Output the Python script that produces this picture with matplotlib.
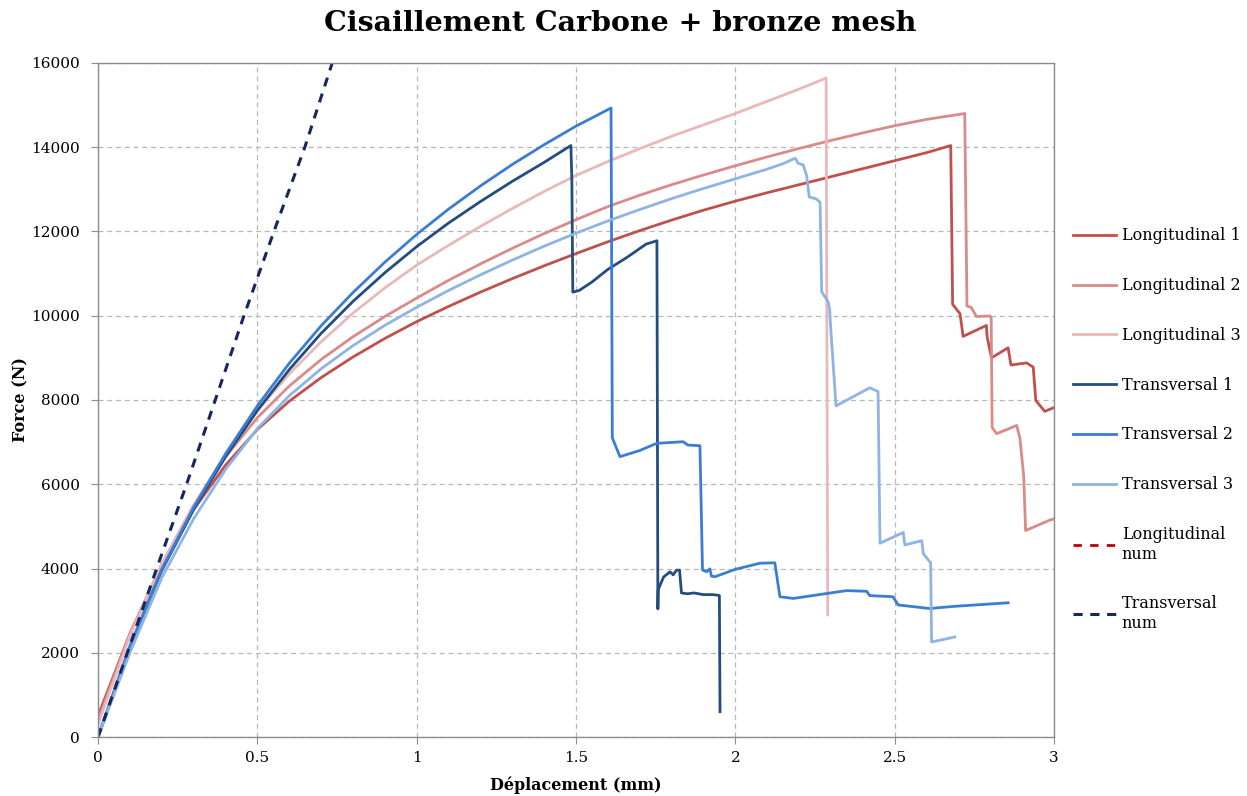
import matplotlib
matplotlib.use("Agg")
import matplotlib.pyplot as plt

plt.rcParams['font.family'] = ['DejaVu Serif']

# Longitudinal 1
l1_x = [0, 0.1, 0.2, 0.3, 0.4, 0.5, 0.6, 0.7, 0.8, 0.9, 1.0, 1.1, 1.2, 1.3, 1.4, 1.5, 1.6, 1.7, 1.8, 1.9,
        2.0, 2.1, 2.2, 2.3, 2.4, 2.5, 2.6, 2.676, 2.682, 2.705, 2.715, 2.788, 2.79, 2.804, 2.856, 2.865,
        2.914, 2.935, 2.943, 2.971, 3.0]
l1_y = [500, 2450, 4050, 5400, 6450, 7300, 7970, 8530, 9020, 9460, 9860, 10220, 10560, 10880, 11185, 11475,
        11755, 12020, 12270, 12505, 12720, 12920, 13110, 13300, 13490, 13680, 13870, 14040, 10270, 10050,
        9510, 9770, 9510, 9000, 9240, 8830, 8880, 8780, 7990, 7730, 7820]

# Longitudinal 2
l2_x = [0, 0.1, 0.2, 0.3, 0.4, 0.5, 0.6, 0.7, 0.8, 0.9, 1.0, 1.1, 1.2, 1.3, 1.4, 1.5, 1.6, 1.7, 1.8, 1.9,
        2.0, 2.1, 2.2, 2.3, 2.4, 2.5, 2.6, 2.72, 2.727, 2.74, 2.757, 2.799, 2.803, 2.806, 2.82, 2.883,
        2.893, 2.905, 2.911, 2.982, 3.0]
l2_y = [400, 2450, 4100, 5500, 6650, 7580, 8330, 8960, 9500, 9980, 10420, 10840, 11230, 11600, 11950, 12280,
        12590, 12860, 13110, 13340, 13560, 13770, 13970, 14160, 14340, 14510, 14660, 14800, 10230, 10200,
        9980, 9995, 9950, 7350, 7200, 7395, 7100, 6200, 4900, 5134, 5180]

# Longitudinal 3
l3_x = [0, 0.1, 0.2, 0.3, 0.4, 0.5, 0.6, 0.7, 0.8, 0.9, 1.0, 1.1, 1.2, 1.3, 1.4, 1.5, 1.6,
        1.7, 1.8, 1.9, 2.0, 2.1, 2.2, 2.285, 2.29]
l3_y = [300, 2400, 4100, 5500, 6700, 7750, 8620, 9380, 10060, 10660, 11200, 11670, 12120, 12545, 12950,
        13330, 13660, 13965, 14260, 14530, 14800, 15090, 15380, 15640, 2900]

# Transversal 1
t1_x = [0, 0.1, 0.2, 0.3, 0.4, 0.5, 0.6, 0.7, 0.8, 0.9, 1.0, 1.1, 1.2, 1.3, 1.4, 1.484, 1.487, 1.49,
        1.51, 1.55, 1.6, 1.66, 1.72, 1.754, 1.757, 1.758, 1.775, 1.795, 1.805, 1.815, 1.825, 1.831, 1.85,
        1.87, 1.9, 1.93, 1.95, 1.952]
t1_y = [0, 2150, 3950, 5400, 6650, 7750, 8720, 9580, 10340, 11020, 11640, 12200, 12710, 13190, 13640,
        14040, 13250, 10560, 10600, 10800, 11100, 11385, 11700, 11780, 3040, 3500, 3800, 3920, 3850, 3960,
        3960, 3420, 3400, 3420, 3380, 3380, 3360, 600]

# Transversal 2
t2_x = [0, 0.1, 0.2, 0.3, 0.4, 0.5, 0.6, 0.7, 0.8, 0.9, 1.0, 1.1, 1.2, 1.3, 1.4, 1.5, 1.61, 1.614, 1.638,
        1.7, 1.753, 1.836, 1.851, 1.889, 1.897, 1.91, 1.92, 1.925, 1.936, 2.0, 2.077, 2.124, 2.14, 2.182,
        2.349, 2.412, 2.422, 2.495, 2.511, 2.61, 2.684, 2.856]
t2_y = [0, 2150, 3980, 5450, 6720, 7860, 8870, 9760, 10550, 11270, 11930, 12530, 13080, 13590, 14060,
        14500, 14930, 7100, 6655, 6800, 6970, 7010, 6930, 6915, 3965, 3925, 3990, 3820, 3805, 3980, 4125,
        4135, 3330, 3290, 3475, 3460, 3357, 3330, 3135, 3050, 3100, 3186]

# Transversal 3
t3_x = [0, 0.1, 0.2, 0.3, 0.4, 0.5, 0.6, 0.7, 0.8, 0.9, 1.0, 1.1, 1.2, 1.3, 1.4, 1.5, 1.6, 1.7, 1.8, 1.9,
        2.0, 2.1, 2.15, 2.188, 2.197, 2.213, 2.224, 2.232, 2.255, 2.266, 2.271, 2.292, 2.296, 2.3, 2.316,
        2.422, 2.448, 2.454, 2.527, 2.532, 2.585, 2.59, 2.613, 2.616, 2.689]
t3_y = [0, 2000, 3780, 5180, 6350, 7320, 8100, 8740, 9290, 9770, 10200, 10600, 10970, 11320, 11650, 11960,
        12250, 12520, 12780, 13020, 13250, 13480, 13610, 13740, 13620, 13580, 13320, 12820, 12770, 12690,
        10570, 10320, 10150, 9640, 7860, 8290, 8200, 4600, 4855, 4560, 4660, 4350, 4135, 2256, 2374]

# Transversal num (dashed)
tnum_x = [0, 0.092, 0.184, 0.278, 0.368, 0.458, 0.552, 0.649, 0.735]
tnum_y = [0, 2000, 4000, 6000, 8000, 10000, 12000, 14000, 16000]

series = [
    ("Longitudinal 1", l1_x, l1_y, "#c0504d"),
    ("Longitudinal 2", l2_x, l2_y, "#d98b89"),
    ("Longitudinal 3", l3_x, l3_y, "#e8b9b8"),
    ("Transversal 1", t1_x, t1_y, "#234d7e"),
    ("Transversal 2", t2_x, t2_y, "#3a7dd3"),
    ("Transversal 3", t3_x, t3_y, "#8db4e3"),
]

fig = plt.figure(figsize=(12.47, 7.96), dpi=100)
ax = fig.add_axes([0.0786, 0.0741, 0.7666, 0.8468])

for label, xs, ys, col in series:
    ax.plot(xs, ys, color=col, lw=2.0, label=label, solid_joinstyle='round')

# longitudinal num: legend only
ax.plot([], [], color="#c00000", lw=2.0, ls=(0, (3, 3)), label="Longitudinal\nnum")
ax.plot(tnum_x, tnum_y, color="#14275f", lw=2.2, ls=(0, (3, 2.5)), label="Transversal\nnum")

ax.set_xlim(0, 3)
ax.set_ylim(0, 16000)
ax.set_xticks([0, 0.5, 1, 1.5, 2, 2.5, 3])
ax.set_xticklabels(["0", "0.5", "1", "1.5", "2", "2.5", "3"])
ax.set_yticks(range(0, 16001, 2000))
ax.grid(True, color="#b8b8b8", ls=(0, (4, 3)), lw=0.9)
ax.set_axisbelow(True)
for s in ax.spines.values():
    s.set_color("#8c8c8c")
    s.set_linewidth(1.0)
ax.tick_params(direction='out', length=5, color="#8c8c8c", labelsize=11)
ax.tick_params(axis='y', pad=8)
ax.tick_params(axis='x', pad=5)

ax.set_xlabel("Déplacement (mm)", fontsize=11.5, fontweight='bold', labelpad=8)
ax.set_ylabel("Force (N)", fontsize=11.5, fontweight='bold', labelpad=1)
fig.suptitle("Cisaillement Carbone + bronze mesh", fontsize=20.5, fontweight='bold', x=0.497, y=0.988)

ax.legend(loc='center left', bbox_to_anchor=(1.005, 0.456), frameon=False, fontsize=11.5,
          handlelength=2.7, handletextpad=0.35, labelspacing=2.05)

fig.savefig("out.png", dpi=100)
